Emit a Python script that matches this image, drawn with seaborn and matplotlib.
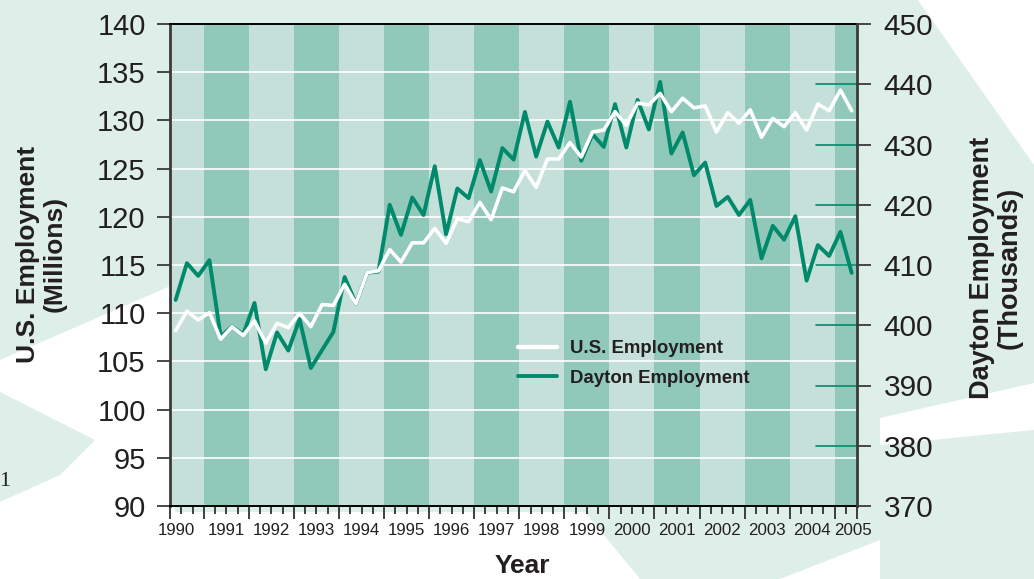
import numpy as np
import pandas as pd
import matplotlib
matplotlib.use("Agg")
import matplotlib.pyplot as plt
import seaborn as sns
from matplotlib import font_manager
from matplotlib.lines import Line2D
from matplotlib.patches import Polygon

# quarterly readings, 1990 Q2 .. 2005 Q2
first_year = 1990
first_quarter = 2
us_employment = [108.2, 110.2, 109.3, 110.05, 107.3, 108.6, 107.7, 109.2, 106.9, 108.95,
                 108.5, 110.0, 108.6, 110.9, 110.8, 113.0, 111.0, 114.2, 114.4, 116.6,
                 115.3, 117.3, 117.3, 118.8, 117.25, 119.8, 119.5, 121.5, 119.7, 123.0,
                 122.6, 124.8, 123.05, 126.0, 126.0, 127.7, 126.2, 128.8, 129.0, 130.9,
                 129.5, 131.8, 131.6, 132.8, 130.9, 132.3, 131.3, 131.5, 128.8, 130.8,
                 129.7, 131.1, 128.25, 130.2, 129.35, 130.8, 129.0, 131.7, 131.0, 133.15,
                 131.0]
dayton_employment = [404.2, 410.3, 408.2, 410.8, 398.1, 399.8, 398.5, 403.7, 392.7, 398.8,
                     395.8, 401.0, 392.9, 395.9, 398.9, 408.0, 403.6, 408.7, 408.9, 420.0,
                     415.0, 421.2, 418.3, 426.4, 415.1, 422.7, 421.1, 427.4, 422.2, 429.4,
                     427.5, 435.4, 428.0, 433.8, 429.5, 437.1, 427.3, 431.7, 429.6, 436.7,
                     429.5, 437.4, 432.5, 440.4, 428.5, 432.0, 424.9, 427.0, 419.8, 421.3,
                     418.3, 420.8, 411.1, 416.5, 414.2, 418.1, 407.4, 413.3, 411.5, 415.5,
                     408.7]
year_labels = [str(y) for y in range(1990, 2006)]
us_ticks = list(range(90, 141, 5))
dayton_ticks = list(range(370, 451, 10))

MINT = '#deefe9'
LIGHT = '#c5e0d9'
DARK = '#90c8b9'
GREEN = '#00896a'
INK = '#231f20'

names = {f.name for f in font_manager.fontManager.ttflist}
SANS = 'Liberation Sans' if 'Liberation Sans' in names else 'DejaVu Sans'
if 'Liberation Sans Narrow' in names:
    xtick_font = dict(family='Liberation Sans Narrow', size=14.5)
else:
    xtick_font = dict(family=SANS, size=12.2)

sns.set_theme(style='white')
plt.rcParams['font.family'] = [SANS, 'DejaVu Sans']

# quarter index -> decimal year at middle of the quarter
n = len(us_employment)
q = np.arange(n) + (first_quarter - 1)
t = first_year + q // 4 + ((q % 4) + 0.5) / 4
df = pd.DataFrame({'t': t, 'us': us_employment, 'dayton': dayton_employment})

W, H = 1034, 579
fig = plt.figure(figsize=(W / 100, H / 100), dpi=100, facecolor=MINT)


def px(points):
    return [(x / W, 1 - y / H) for x, y in points]


# scanned-page background
for pts, col in [
    ([(0, 360), (175, 284), (175, 512), (585, 512), (640, 579), (0, 579)], 'white'),
    ([(0, 392), (95, 440), (60, 475), (0, 502)], MINT),
    ([(780, 579), (880, 540), (880, 579)], 'white'),
    ([(918, 0), (1034, 0), (1034, 165)], 'white'),
    ([(880, 418), (1034, 383), (1034, 430), (880, 445)], 'white'),
]:
    fig.add_artist(Polygon(px(pts), closed=True, transform=fig.transFigure,
                           facecolor=col, edgecolor='none', zorder=-5))

ax = fig.add_axes([170 / W, 73 / H, 687.3 / W, 482 / H])
ax.set_facecolor('none')
for lab in year_labels:
    yr = int(lab)
    ax.axvspan(yr, yr + 1, color=LIGHT if yr % 2 == 0 else DARK, lw=0, zorder=1)
ax.set_xlim(1990.25, 2005.5)
ax.set_ylim(90, 140)
ax.set_yticks(us_ticks)
ax.set_yticklabels([str(v) for v in us_ticks], fontsize=21, color=INK)
ax.yaxis.grid(True, color='white', lw=1.2)
ax.xaxis.grid(False)
ax.set_axisbelow('line')

major = [1990.25] + list(range(1991, 2006)) + [2005.5]
minor = [v for v in np.arange(1990.5, 2005.5, 0.25) if v % 1 != 0]
ax.set_xticks(major)
ax.set_xticks(minor, minor=True)
ax.set_xticklabels([])
ax.tick_params(axis='x', which='major', direction='out', length=9, width=1.2,
               color=INK, bottom=True)
ax.tick_params(axis='x', which='minor', direction='out', length=6, width=1.2,
               color=INK, bottom=True)
ax.tick_params(axis='y', direction='out', length=9.5, width=1.3, color='#3a3a3a',
               left=True, pad=8)
for s in ['top', 'bottom']:
    ax.spines[s].set_color('black')
    ax.spines[s].set_linewidth(1.4)
ax.spines['left'].set_color('#3a3a3a')
ax.spines['left'].set_linewidth(2)
ax.spines['right'].set_visible(False)
ax.set_xlabel('')
ax.set_ylabel('')

# year labels centred in each stripe (edge ones pulled inside)
xform = ax.get_xaxis_transform()
for i, lab in enumerate(year_labels):
    yr = int(lab)
    xc = yr + 0.5
    if i == 0:
        xc = 1990.4
    if i == len(year_labels) - 1:
        xc = 2005.4
    ax.text(xc, -0.05, lab, transform=xform, ha='center', va='center',
            color=INK, **xtick_font)

ax2 = ax.twinx()
ax2.set_facecolor('none')
ax2.set_ylim(370, 450)
ax2.set_yticks(dayton_ticks)
ax2.set_yticklabels([str(v) for v in dayton_ticks], fontsize=21.5, color=INK)
ax2.tick_params(axis='y', direction='out', length=10, width=1.3, color='#3a3a3a',
                right=True, pad=9)
for s in ['top', 'bottom', 'left']:
    ax2.spines[s].set_visible(False)
ax2.spines['right'].set_color('#3a3a3a')
ax2.spines['right'].set_linewidth(2)
ax2.grid(False)
for v in dayton_ticks[1:-1]:
    ax2.axhline(v, xmin=0.94, xmax=1.0, color=GREEN, lw=1.2)
sns.lineplot(data=df, x='t', y='dayton', ax=ax2, color=GREEN, lw=2.8)
ax2.set_ylabel('')

ax3 = ax.twinx()
ax3.set_ylim(90, 140)
ax3.set_axis_off()
sns.lineplot(data=df, x='t', y='us', ax=ax3, color='white', lw=2.6)

handles = [Line2D([], [], color='white', lw=3.2), Line2D([], [], color=GREEN, lw=2.8)]
ax3.legend(handles, ['U.S. Employment', 'Dayton Employment'], loc='upper left',
           bbox_to_anchor=(518 / W, 1 - 340 / H), bbox_transform=fig.transFigure,
           frameon=False, borderpad=0, borderaxespad=0, handlelength=2.1,
           handletextpad=0.7, labelspacing=0.68,
           prop=dict(family=SANS, weight='bold', size=13.4), labelcolor=INK)

fig.text(41 / W, 1 - 254 / H, 'U.S. Employment\n(Millions)', rotation=90,
         ha='center', va='center', fontsize=19, fontweight='bold', color=INK,
         linespacing=1.12)
fig.text(996 / W, 1 - 268 / H, 'Dayton Employment\n(Thousands)', rotation=90,
         ha='center', va='center', fontsize=19.5, fontweight='bold', color=INK,
         linespacing=1.1)
fig.text(522 / W, 1 - 566 / H, 'Year', ha='center', va='center', fontsize=19,
         fontweight='bold', color=INK)
fig.text(5 / W, 1 - 481 / H, '1', ha='center', va='center', fontsize=16,
         family=['Liberation Serif', 'DejaVu Serif'], color=INK)

fig.savefig('out.png', dpi=100, facecolor=MINT)
